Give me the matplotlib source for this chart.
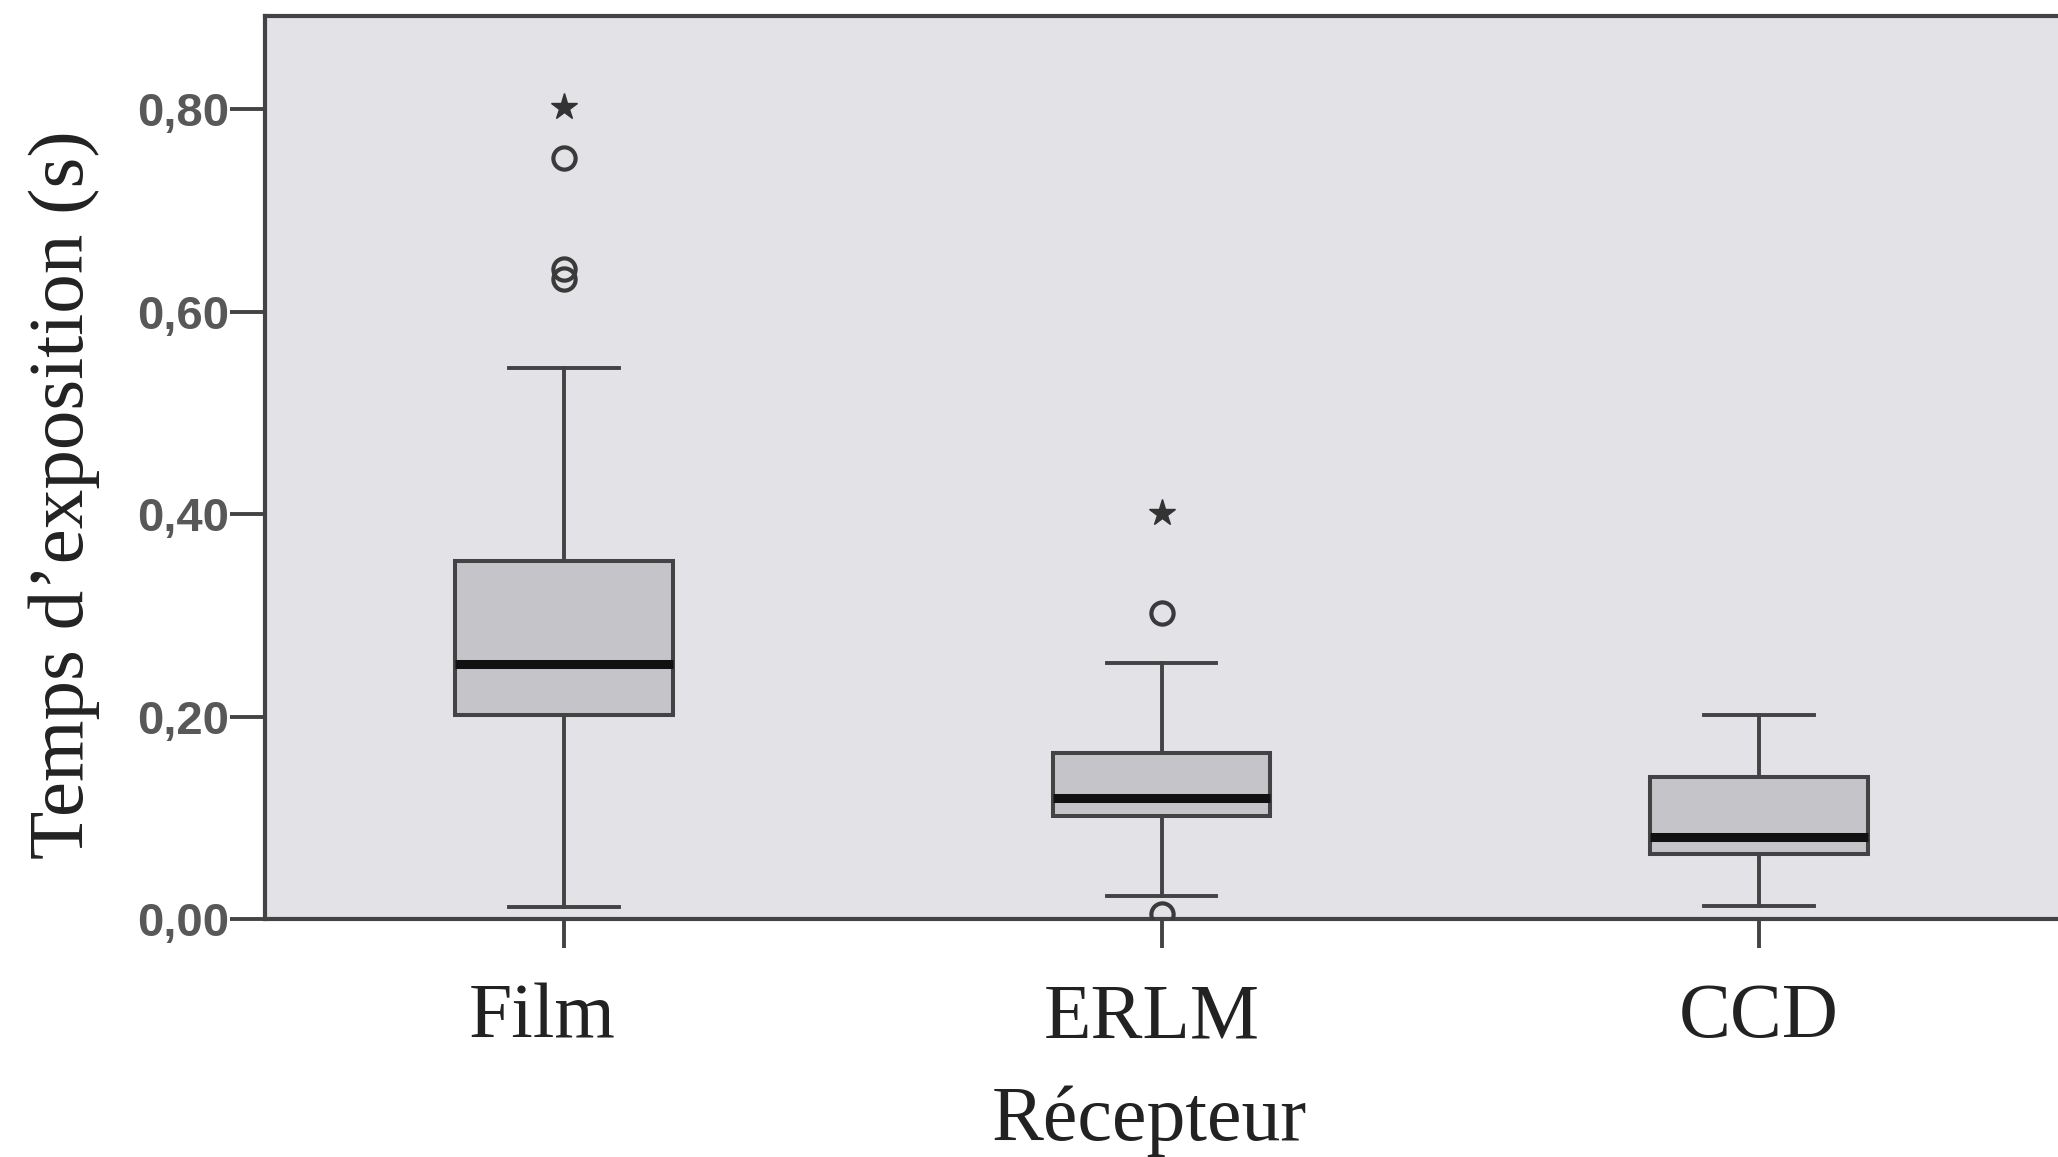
import matplotlib
matplotlib.use("Agg")
import matplotlib.pyplot as plt
from matplotlib.transforms import ScaledTranslation

# ---- data ----
categories = ["Film", "ERLM", "CCD"]
whisker_low = [0.012, 0.023, 0.013]
q1 = [0.202, 0.102, 0.064]
median = [0.252, 0.120, 0.081]
q3 = [0.354, 0.164, 0.140]
whisker_high = [0.544, 0.253, 0.202]
outliers_circle = [[0.752, 0.642, 0.632], [0.302, 0.005], []]
outliers_star = [[0.802], [0.401], []]
yticks = [0.0, 0.2, 0.4, 0.6, 0.8]
ytick_labels = ["0,00", "0,20", "0,40", "0,60", "0,80"]

# ---- styling ----
W, H = 2058, 1157
bg = "#e2e2e7"
boxfill = "#c4c4c9"
edge = "#434343"

fig = plt.figure(figsize=(W / 100, H / 100), dpi=100)
fig.patch.set_facecolor("white")
ax = fig.add_axes([265 / W, 1 - 919 / H, (W - 265) / W, (919 - 16) / H])
ax.set_facecolor(bg)

stats = []
for c, wl, a, m, b, wh in zip(categories, whisker_low, q1, median, q3, whisker_high):
    stats.append(dict(label=c, whislo=wl, q1=a, med=m, q3=b, whishi=wh, fliers=[]))

positions = list(range(len(categories)))
ax.bxp(stats, positions=positions, widths=0.364, capwidths=0.184,
       patch_artist=True, showfliers=False,
       boxprops=dict(facecolor=boxfill, edgecolor=edge, linewidth=2.9),
       medianprops=dict(color="#111111", linewidth=6.5, solid_capstyle="butt"),
       whiskerprops=dict(color=edge, linewidth=2.8),
       capprops=dict(color=edge, linewidth=2.8))

for i, vals in enumerate(outliers_circle):
    if vals:
        ax.plot([positions[i]] * len(vals), vals, "o", mfc="none", mec="#3a3a3a",
                ms=16, mew=3.0, zorder=4)
for i, vals in enumerate(outliers_star):
    if vals:
        ax.plot([positions[i]] * len(vals), vals, "*", mfc="#333333", mec="#333333",
                ms=20, zorder=4)

ax.set_xlim(-0.5, 2.5)
ax.set_ylim(0, 0.892)

ax.set_yticks(yticks, ytick_labels, fontfamily="Liberation Sans", fontsize=34,
              fontweight="bold", color="#585858")
ax.set_xticks(positions, categories, fontfamily="Liberation Serif", fontsize=56,
              color="#222222")
ax.tick_params(axis="y", length=25, width=2.8, color=edge, pad=1)
ax.tick_params(axis="x", length=21, width=2.8, color=edge, pad=25)

# the reference's category labels sit slightly left of their ticks
label_shift_px = [-22, -10, 0]
for lbl, dx in zip(ax.get_xticklabels(), label_shift_px):
    lbl.set_transform(lbl.get_transform() + ScaledTranslation(dx / 100, 0, fig.dpi_scale_trans))

for s in ["top", "left", "bottom"]:
    ax.spines[s].set_color(edge)
    ax.spines[s].set_linewidth(3.0)
ax.spines["right"].set_visible(False)

ax.set_ylabel("Temps d’exposition (s)", fontfamily="Liberation Serif", fontsize=57,
              color="#222222", va="center")
ax.yaxis.set_label_coords(-0.112, 0.47)
ax.set_xlabel("Récepteur", fontfamily="Liberation Serif", fontsize=56,
              color="#222222", va="baseline")
ax.xaxis.set_label_coords(0.493, -0.245)

fig.savefig("out.png", dpi=100, facecolor="white")
